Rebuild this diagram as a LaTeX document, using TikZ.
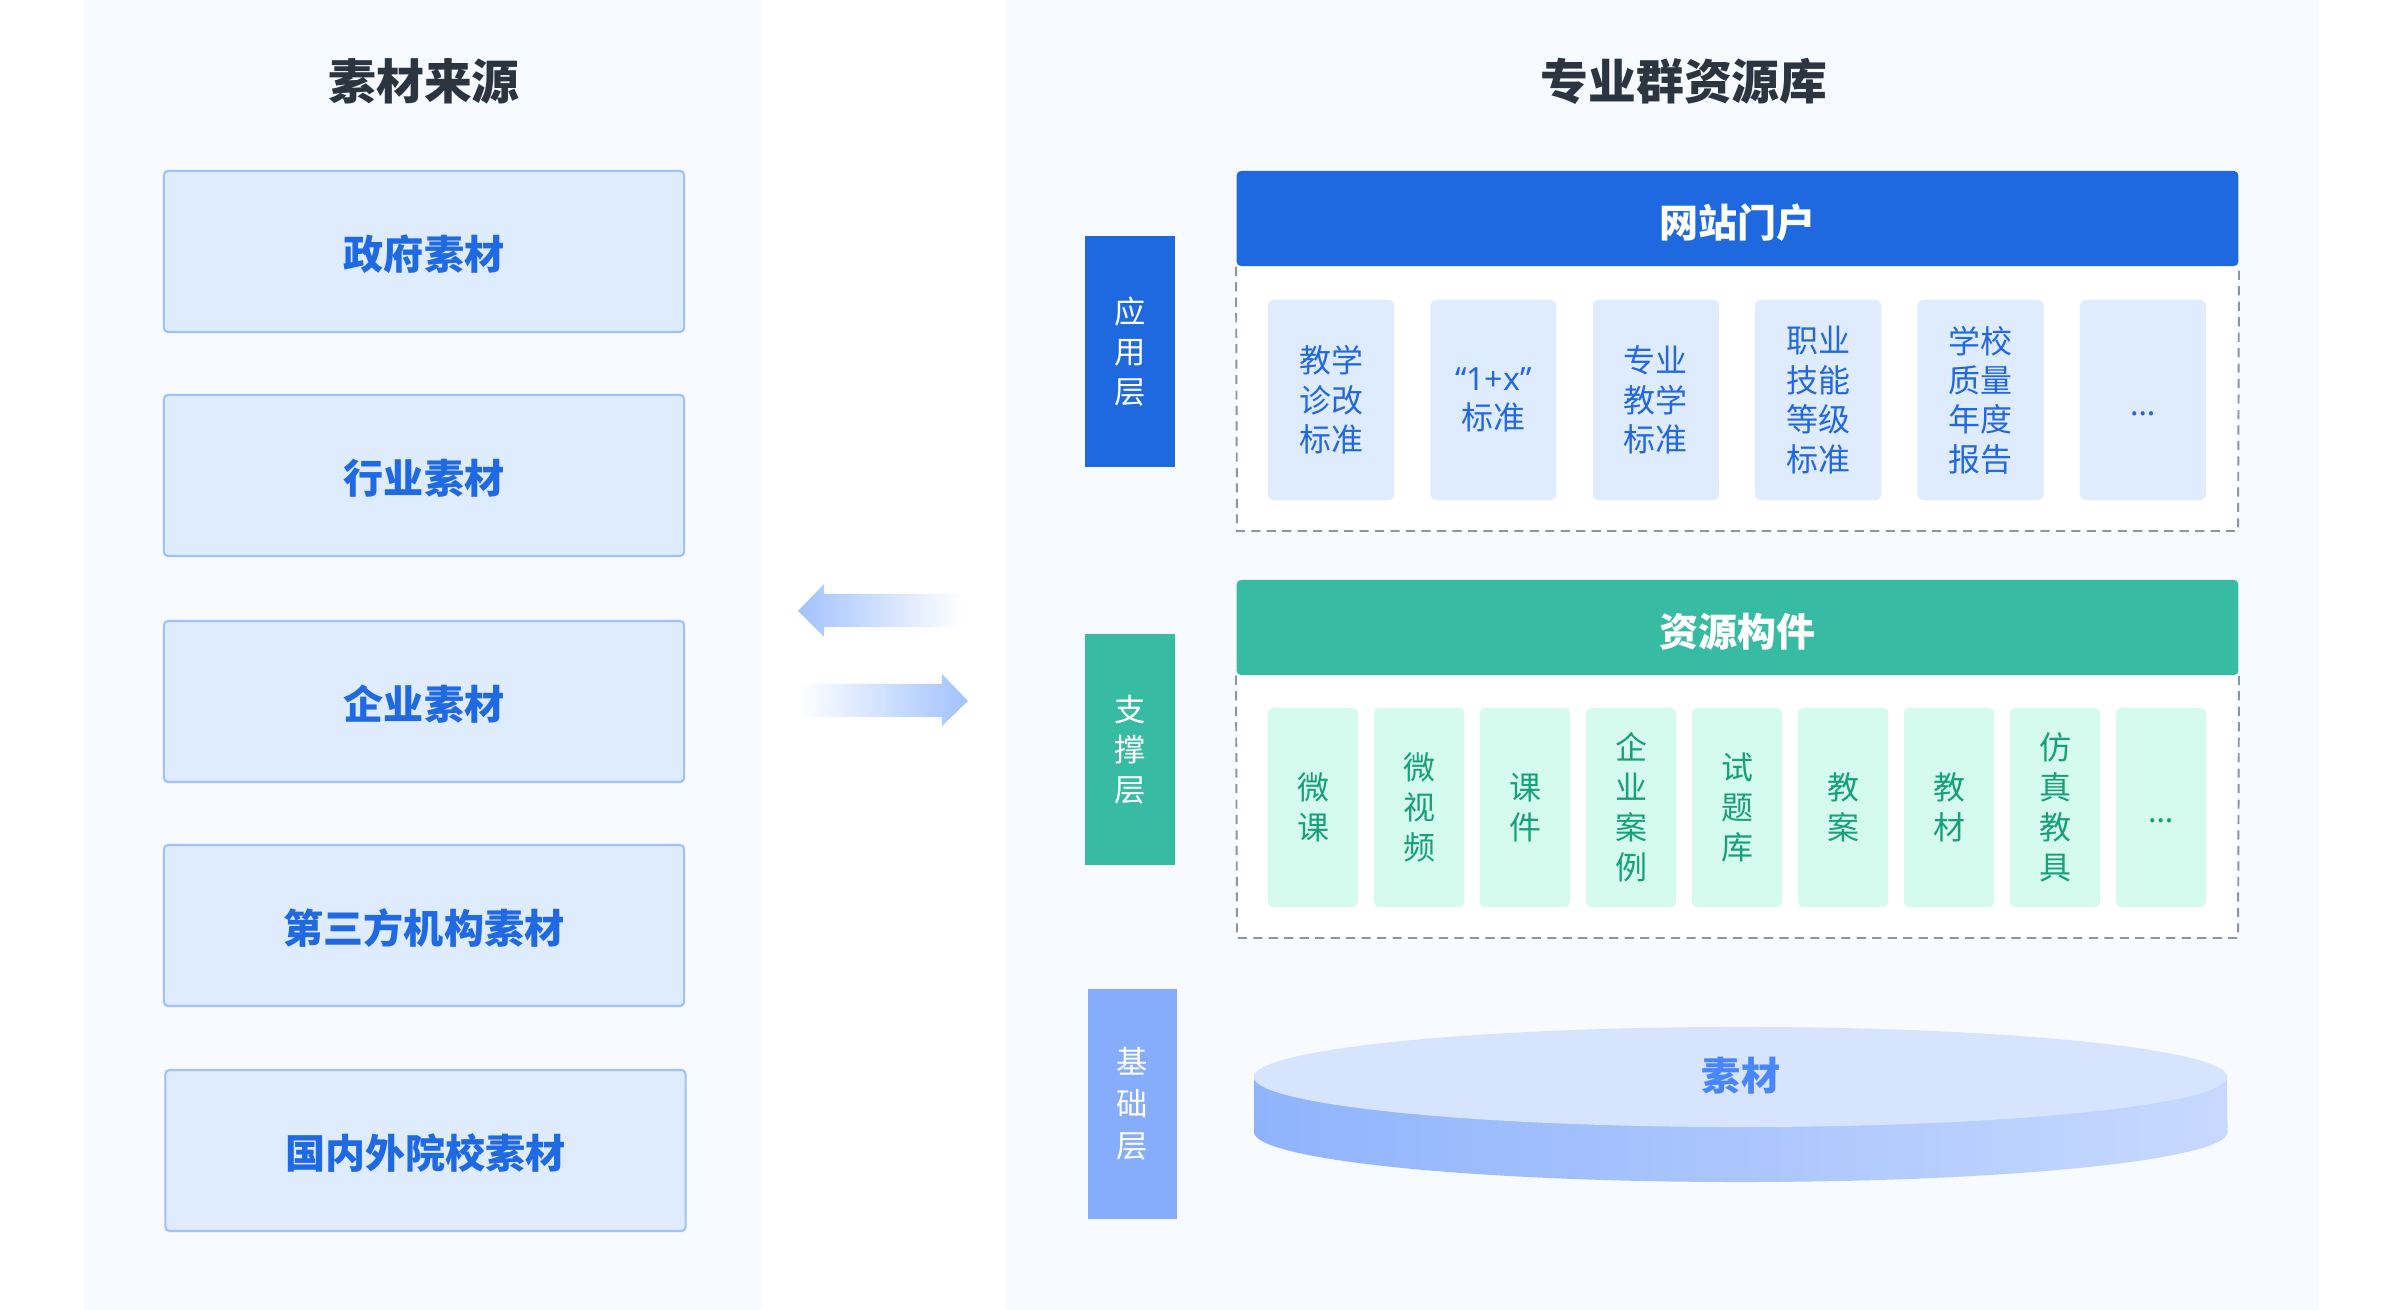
\documentclass[tikz,border=0pt]{standalone}
\usepackage{fontspec}
\setmainfont{Noto Sans CJK SC}
\newfontfamily\latinfont{Noto Sans}
\definecolor{panelbg}{HTML}{F7FAFE}
\definecolor{titlecol}{HTML}{2B3541}
\definecolor{srcfill}{HTML}{DFEBFE}
\definecolor{srcdraw}{HTML}{9FC2FB}
\definecolor{srctext}{HTML}{1F69E3}
\definecolor{appblue}{HTML}{1F69E0}
\definecolor{appcardtext}{HTML}{2468DE}
\definecolor{tealc}{HTML}{37BBA2}
\definecolor{mint}{HTML}{D5FAEE}
\definecolor{mintext}{HTML}{18A07B}
\definecolor{baseblue}{HTML}{86ADFC}
\definecolor{dashgray}{HTML}{8C95A3}
\definecolor{arrowblue}{HTML}{A2C2FD}
\definecolor{disktop}{HTML}{D7E4FE}
\definecolor{diskleft}{HTML}{8FB3FD}
\definecolor{diskright}{HTML}{C7D9FE}
\definecolor{disktext}{HTML}{4A86FB}
\tikzset{
  srcbox/.style={draw=srcdraw, line width=0.6pt, fill=srcfill, rounded corners=1.2pt,
    minimum width=5.2cm, minimum height=1.61cm, inner sep=0pt,
    font=\fontsize{11.4pt}{13pt}\selectfont\bfseries, text=srctext,
    execute at begin node={\rule{0pt}{1.0em}}},
  maintitle/.style={font=\fontsize{13.6pt}{16pt}\selectfont\bfseries, text=titlecol},
  layerlabel/.style={minimum width=0.9cm, minimum height=2.31cm, inner sep=0pt,
    text=white, align=center, font=\fontsize{8.9pt}{11.4pt}\selectfont,
    execute at begin node={\rule{0pt}{1.22em}}},
  header/.style={minimum width=10.01cm, minimum height=0.95cm, inner sep=0pt,
    rounded corners=1.2pt, text=white, font=\fontsize{11.1pt}{13pt}\selectfont\bfseries,
    execute at begin node={\rule{0pt}{1.08em}}},
  appcard/.style={fill=srcfill, rounded corners=1.7pt, minimum width=1.26cm,
    minimum height=2cm, inner sep=0pt, text=appcardtext, align=center,
    font=\fontsize{9.1pt}{11.2pt}\selectfont,
    execute at begin node={\rule{0pt}{1.0em}}},
  greencard/.style={fill=mint, rounded corners=1.7pt, minimum width=0.9cm,
    minimum height=1.99cm, inner sep=0pt, text=mintext, align=center,
    font=\fontsize{9.1pt}{11.4pt}\selectfont,
    execute at begin node={\rule{0pt}{0.93em}}},
  dashline/.style={draw=dashgray, line width=0.55pt, dash pattern=on 2.6pt off 1.8pt},
}
\begin{document}
\begin{tikzpicture}[x=0.01cm, y=-0.01cm]
\useasboundingbox (0,0) rectangle (2400,1310);
\fill[white] (0,0) rectangle (2400,1310);
% panels
\fill[panelbg] (84,0) rectangle (762,1310);
\fill[panelbg] (1006,0) rectangle (2318,1310);
% titles
\node[maintitle] (t1) at (424,81) {素材来源};
\node[maintitle] (t2) at (1684,81) {专业群资源库};
% source boxes
\node[srcbox] (s1) at (424,251.5) {政府素材};
\node[srcbox] (s2) at (424,475.5) {行业素材};
\node[srcbox] (s3) at (424,701.5) {企业素材};
\node[srcbox] (s4) at (424,925.5) {第三方机构素材};
\node[srcbox] (s5) at (425.5,1150.5) {国内外院校素材};
% arrows
\shade[left color=arrowblue, right color=white]
  (798,611) -- (824,584) -- (824,594) -- (963,594) -- (963,627) -- (824,627) -- (824,637) -- cycle;
\shade[left color=white, right color=arrowblue]
  (968,701) -- (942,674) -- (942,684) -- (798,684) -- (798,717) -- (942,717) -- (942,726) -- cycle;
% layer labels
\node[layerlabel, fill=appblue] (L1) at (1130,351.5) {应\\用\\层};
\node[layerlabel, fill=tealc] (L2) at (1130,749.5) {支\\撑\\层};
\node[layerlabel, fill=baseblue, minimum width=0.89cm, minimum height=2.3cm,
  font=\fontsize{8.9pt}{12pt}\selectfont] (L3) at (1132.5,1104) {基\\础\\层};
% application layer
\fill[white] (1237,266) rectangle (2238,531);
\node[header, fill=appblue] (hA) at (1737.5,218.5) {网站门户};
\draw[dashline] (hA.south west) -- (1237,531) -- (2238,531) -- (hA.south east);
\node[appcard] (a1) at (1331,400) {教学\\诊改\\标准};
\node[appcard] (a2) at (1493.4,400) {{\latinfont “1+x”}\\标准};
\node[appcard] (a3) at (1655.8,400) {专业\\教学\\标准};
\node[appcard] (a4) at (1818.2,400) {职业\\技能\\等级\\标准};
\node[appcard] (a5) at (1980.6,400) {学校\\质量\\年度\\报告};
\node[appcard] (a6) at (2143,400) {{\latinfont …}};
% support layer
\fill[white] (1237,675) rectangle (2238,938);
\node[header, fill=tealc] (hB) at (1737.5,627.5) {资源构件};
\draw[dashline] (hB.south west) -- (1237,938) -- (2238,938) -- (hB.south east);
\node[greencard] (g1) at (1313,807.5) {微\\课};
\node[greencard] (g2) at (1419,807.5) {微\\视\\频};
\node[greencard] (g3) at (1525,807.5) {课\\件};
\node[greencard] (g4) at (1631,807.5) {企\\业\\案\\例};
\node[greencard] (g5) at (1737,807.5) {试\\题\\库};
\node[greencard] (g6) at (1843,807.5) {教\\案};
\node[greencard] (g7) at (1949,807.5) {教\\材};
\node[greencard] (g8) at (2055,807.5) {仿\\真\\教\\具};
\node[greencard] (g9) at (2161,807.5) {{\latinfont …}};
% base layer disk
\shade[left color=diskleft, right color=diskright]
  (1254,1077) -- (1254,1132) arc[start angle=180, end angle=360, x radius=4.865cm, y radius=0.5cm]
  -- (2227,1077) -- cycle;
\fill[disktop] (1740.5,1077) ellipse [x radius=4.865cm, y radius=0.5cm];
\node[font=\fontsize{11.1pt}{13pt}\selectfont\bfseries, text=disktext,
  execute at begin node={\rule{0pt}{0.93em}}] (disk) at (1741,1074) {素材};
\end{tikzpicture}
\end{document}
